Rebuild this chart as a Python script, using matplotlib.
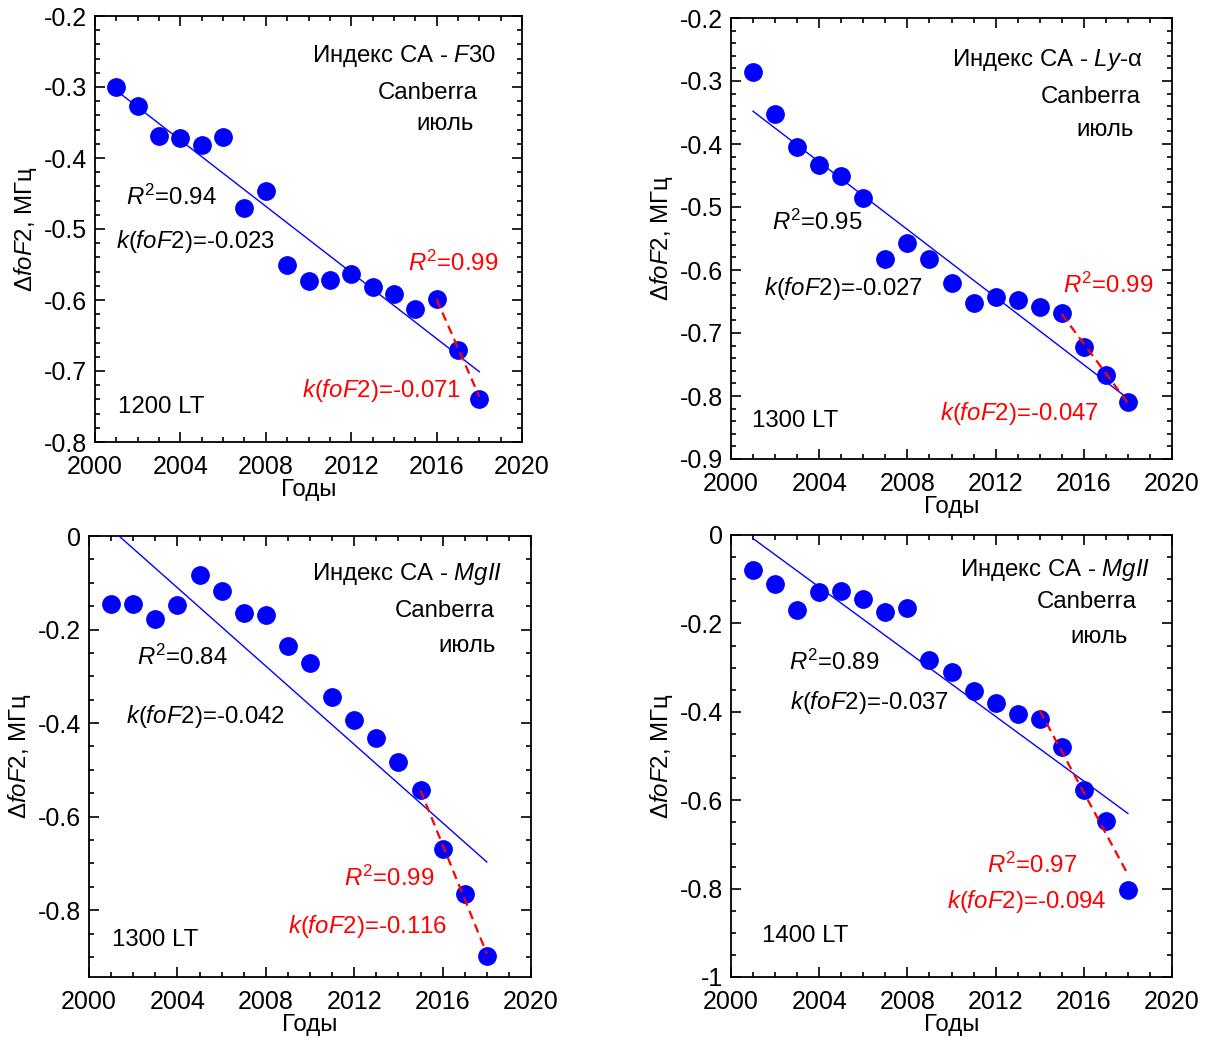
import numpy as np
import matplotlib
matplotlib.use("Agg")
import matplotlib.pyplot as plt
from matplotlib.ticker import MultipleLocator, FuncFormatter

plt.rcParams["font.family"] = ["Liberation Sans", "DejaVu Sans"]
plt.rcParams["mathtext.fontset"] = "custom"
plt.rcParams["mathtext.rm"] = "Liberation Sans"
plt.rcParams["mathtext.it"] = "Liberation Sans:italic"
plt.rcParams["mathtext.bf"] = "Liberation Sans:bold"
plt.rcParams["axes.unicode_minus"] = False

years = list(range(2001, 2019))

# Индекс CA - F30, 1200 LT
f30 = [-0.300, -0.327, -0.369, -0.372, -0.382, -0.370, -0.470, -0.446, -0.550,
       -0.573, -0.572, -0.564, -0.581, -0.592, -0.612, -0.599, -0.670, -0.740]
f30_fit_x, f30_fit_y = [2001, 2018], [-0.305, -0.701]
f30_red_x, f30_red_y = [2016, 2018], [-0.599, -0.736]

# Индекс CA - Ly-a, 1300 LT
lya = [-0.285, -0.353, -0.404, -0.434, -0.451, -0.486, -0.582, -0.557, -0.583,
       -0.620, -0.653, -0.643, -0.647, -0.659, -0.669, -0.722, -0.767, -0.810]
lya_fit_x, lya_fit_y = [2001, 2018], [-0.348, -0.804]
lya_red_x, lya_red_y = [2015, 2018], [-0.670, -0.811]

# Индекс CA - MgII, 1300 LT
mg13 = [-0.145, -0.146, -0.177, -0.148, -0.083, -0.117, -0.164, -0.168, -0.236,
        -0.272, -0.345, -0.393, -0.431, -0.483, -0.544, -0.670, -0.766, -0.899]
mg13_fit_x, mg13_fit_y = [2001, 2018], [0.015, -0.697]
mg13_red_x, mg13_red_y = [2015, 2018], [-0.544, -0.893]

# Индекс CA - MgII, 1400 LT
mg14 = [-0.080, -0.111, -0.169, -0.129, -0.127, -0.144, -0.175, -0.166, -0.283,
        -0.310, -0.353, -0.381, -0.404, -0.416, -0.479, -0.576, -0.648, -0.803]
mg14_fit_x, mg14_fit_y = [2001, 2018], [-0.008, -0.630]
mg14_red_x, mg14_red_y = [2014, 2018], [-0.397, -0.768]

BLUE = "#0000FF"; RED = "#FF0000"
FS = 17.3

fig = plt.figure(figsize=(12.05, 10.39), dpi=100)
W, H = 1205, 1039

def make_ax(l, t, r, b):
    return fig.add_axes([l / W, (H - b) / H, (r - l) / W, (b - t) / H])

def style(ax, ylim, ymaj, ymin):
    ax.set_xlim(2000, 2020); ax.set_ylim(*ylim)
    ax.xaxis.set_major_locator(MultipleLocator(4)); ax.xaxis.set_minor_locator(MultipleLocator(1))
    ax.yaxis.set_major_locator(MultipleLocator(ymaj)); ax.yaxis.set_minor_locator(MultipleLocator(ymin))
    ax.yaxis.set_major_formatter(FuncFormatter(lambda v, p: f"{round(v, 6) + 0.0:g}"))
    ax.tick_params(which="both", direction="in", top=True, right=True, width=1.2, labelsize=18)
    ax.tick_params(axis="x", which="major", pad=9.5)
    ax.tick_params(axis="y", which="major", pad=5.5)
    ax.tick_params(which="major", length=7)
    ax.tick_params(which="minor", length=3.5)
    for s in ax.spines.values(): s.set_linewidth(1.3)
    ax.set_xlabel("Годы", fontsize=FS, labelpad=0)
    ax.set_ylabel("Δ$\\mathit{foF}$2, МГц", fontsize=FS, labelpad=4)

def draw(ax, y, fx, fy, rx, ry):
    ax.plot(years, y, "o", color=BLUE, ms=12.5, mec=BLUE, zorder=2)
    ax.plot(fx, fy, "-", color=BLUE, lw=1.0, zorder=3)
    ax.plot(rx, ry, "--", color=RED, lw=1.6, dashes=(4, 2.5), zorder=3)

def texts(ax, items):
    for x, y, s, c, ha in items:
        ax.text(x, y, s, color=c, fontsize=FS, ha=ha, va="center")

# panel 1
ax1 = make_ax(95, 16, 522, 442)
style(ax1, (-0.8, -0.2), 0.1, 0.02)
draw(ax1, f30, f30_fit_x, f30_fit_y, f30_red_x, f30_red_y)
texts(ax1, [
    (2018.8, -0.256, "Индекс CA - $\\mathit{F}$30", "black", "right"),
    (2015.6, -0.3085, "Canberra", "black", "center"),
    (2016.4, -0.352, "июль", "black", "center"),
    (2003.6, -0.455, "$\\mathit{R}^\\mathrm{2}$=0.94", "black", "center"),
    (2004.7, -0.518, "$\\mathit{k}$($\\mathit{foF}$2)=-0.023", "black", "center"),
    (2016.8, -0.549, "$\\mathit{R}^\\mathrm{2}$=0.99", RED, "center"),
    (2013.4, -0.727, "$\\mathit{k}$($\\mathit{foF}$2)=-0.071", RED, "center"),
    (2003.1, -0.751, "1200 LT", "black", "center"),
])

# panel 2
ax2 = make_ax(731, 18, 1172, 459)
style(ax2, (-0.9, -0.2), 0.1, 0.02)
draw(ax2, lya, lya_fit_x, lya_fit_y, lya_red_x, lya_red_y)
texts(ax2, [
    (2018.64, -0.267, "Индекс CA - $\\mathit{Ly}$-α", "black", "right"),
    (2016.3, -0.325, "Canberra", "black", "center"),
    (2016.96, -0.378, "июль", "black", "center"),
    (2003.9, -0.524, "$\\mathit{R}^\\mathrm{2}$=0.95", "black", "center"),
    (2005.1, -0.6286, "$\\mathit{k}$($\\mathit{foF}$2)=-0.027", "black", "center"),
    (2017.1, -0.624, "$\\mathit{R}^\\mathrm{2}$=0.99", RED, "center"),
    (2013.1, -0.827, "$\\mathit{k}$($\\mathit{foF}$2)=-0.047", RED, "center"),
    (2002.9, -0.84, "1300 LT", "black", "center"),
])

# panel 3
ax3 = make_ax(89, 536, 531, 977)
style(ax3, (-0.943, 0), 0.2, 0.05)
draw(ax3, mg13, mg13_fit_x, mg13_fit_y, mg13_red_x, mg13_red_y)
texts(ax3, [
    (2018.7, -0.081, "Индекс CA - $\\mathit{MgII}$", "black", "right"),
    (2016.1, -0.160, "Canberra", "black", "center"),
    (2017.1, -0.235, "июль", "black", "center"),
    (2004.25, -0.259, "$\\mathit{R}^\\mathrm{2}$=0.84", "black", "center"),
    (2005.25, -0.387, "$\\mathit{k}$($\\mathit{foF}$2)=-0.042", "black", "center"),
    (2013.6, -0.732, "$\\mathit{R}^\\mathrm{2}$=0.99", RED, "center"),
    (2012.6, -0.836, "$\\mathit{k}$($\\mathit{foF}$2)=-0.116", RED, "center"),
    (2003.0, -0.864, "1300 LT", "black", "center"),
])

# panel 4
ax4 = make_ax(731, 535, 1172, 977)
style(ax4, (-1, 0), 0.2, 0.05)
draw(ax4, mg14, mg14_fit_x, mg14_fit_y, mg14_red_x, mg14_red_y)
texts(ax4, [
    (2019.0, -0.079, "Индекс CA - $\\mathit{MgII}$", "black", "right"),
    (2016.15, -0.152, "Canberra", "black", "center"),
    (2016.7, -0.231, "июль", "black", "center"),
    (2004.7, -0.287, "$\\mathit{R}^\\mathrm{2}$=0.89", "black", "center"),
    (2006.3, -0.380, "$\\mathit{k}$($\\mathit{foF}$2)=-0.037", "black", "center"),
    (2013.65, -0.747, "$\\mathit{R}^\\mathrm{2}$=0.97", RED, "center"),
    (2013.4, -0.830, "$\\mathit{k}$($\\mathit{foF}$2)=-0.094", RED, "center"),
    (2003.35, -0.907, "1400 LT", "black", "center"),
])

fig.savefig("out.png", dpi=100)
